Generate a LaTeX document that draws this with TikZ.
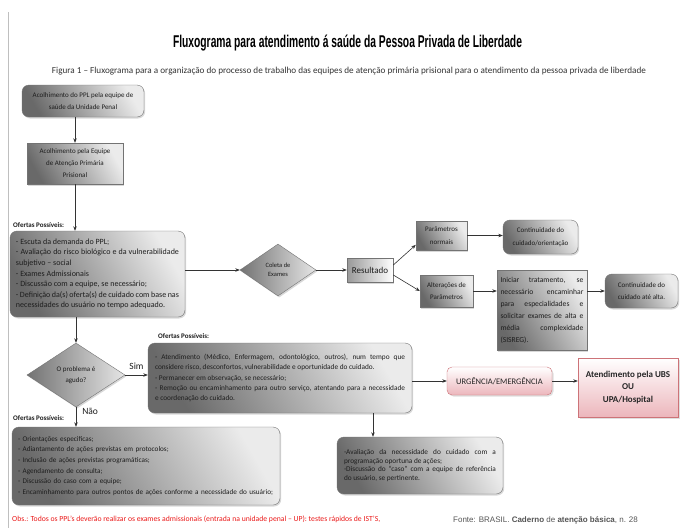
\documentclass[tikz,border=0pt]{standalone}
\usepackage{fontspec}
\setmainfont{Carlito}
\newfontfamily\arialfont{Liberation Sans}
\usepackage{tikz}
\usetikzlibrary{arrows.meta,positioning,shapes.geometric,shadows}
\usepackage{graphicx}
\usepackage{xcolor}
\definecolor{boxdark}  {RGB}{105,105,105}
\definecolor{boxlight} {RGB}{235,235,235}
\definecolor{boxtext}  {RGB}{ 30, 30, 30}
\definecolor{urgfill}  {RGB}{236,182,188}
\definecolor{urgline}  {RGB}{205,115,120}
\definecolor{obsred}   {RGB}{235, 25, 25}
\definecolor{fontegray}{RGB}{ 85, 85, 85}
\newcommand{\boxfont}{\fontsize{8}{10.6}\selectfont}
\newcommand{\smallboxfont}{\fontsize{7}{12.5}\selectfont}

\begin{document}
\begin{tikzpicture}[
    x=1pt, y=-1pt,
    module/.style={draw=black!55, rectangle, align=center, text=boxtext, font=\smallboxfont, inner sep=3pt, left color=boxdark, right color=boxlight, shading angle=120, drop shadow={opacity=0.3, shadow xshift=1.2pt, shadow yshift=-1.5pt}},
    card/.style={module, rounded corners=7pt},
    choice/.style={module, diamond, inner sep=0pt, left color=black!55, right color=black!10},
    alert/.style={draw=urgline, rectangle, align=center, text=black!85, top color=white, bottom color=urgfill, drop shadow={opacity=0.25, shadow xshift=1.5pt, shadow yshift=-1.5pt}},
    tag/.style={font=\fontsize{7}{8}\selectfont\bfseries, text=boxtext, anchor=west, inner sep=0pt},
    answer/.style={font=\fontsize{9.5}{11}\selectfont, text=boxtext, inner sep=2pt},
    arrow/.style={-{Stealth[length=4.5pt,width=3.5pt]}, draw=black!80, line width=0.6pt}
]
    \path[use as bounding box, fill=white] (0,0) rectangle (680,528);
    \draw[black!25, line width=0.6pt] (8,12) -- (8,528);

    \node (title) at (347.5,43) {\resizebox{349pt}{12.5pt}{\arialfont\bfseries Fluxograma para atendimento á saúde da Pessoa Privada de Liberdade}};
    \node[text=black!80] (subtitle) at (349,71) {\resizebox{594pt}{!}{\fontsize{8}{10}\selectfont Figura 1 – Fluxograma para a organização do processo de trabalho das equipes de atenção primária prisional para o atendimento da pessoa privada de liberdade}};

    \node[card, minimum width=122pt, minimum height=32pt, font=\fontsize{7}{12}\selectfont] (acolhe) at (83,101) {Acolhimento do PPL pela equipe de\\saúde da Unidade Penal};
    \node[module, minimum width=96pt, minimum height=41pt, font=\fontsize{7}{12}\selectfont] (acolheaps) at (75,163.5) {Acolhimento pela Equipe\\de Atenção Primária\\Prisional};

    \node[tag] (tagA) at (13,225) {Ofertas Possíveis:};
    \node[card, text width=163pt, minimum height=86pt, align=justify, inner xsep=6pt, font=\boxfont] (ofertasA) at (97.5,274) {- Escuta da demanda do PPL;\\
      - Avaliação do risco biológico e da vulnerabilidade\linebreak subjetivo – social\\
      - Exames Admissionais\\
      - Discussão com a equipe, se necessário;\\
      - Definição da(s) oferta(s) de cuidado com base nas\linebreak necessidades do usuário no tempo adequado.};

    \node[choice, minimum width=76pt, minimum height=52pt, font=\fontsize{6.5}{9.5}\selectfont] (coleta) at (278,270) {Coleta de\\Exames};
    \node[module, minimum width=46pt, minimum height=24pt, font=\fontsize{9}{11}\selectfont, left color=black!40, right color=white] (resultado) at (370,270) {Resultado};

    \node[module, minimum width=51pt, minimum height=29pt] (normais) at (441.5,235.5) {Parâmetros\\normais};
    \node[card, minimum width=75pt, minimum height=34pt] (contorient) at (540.5,237) {Continuidade do\\cuidado/orientação};
    \node[module, minimum width=53pt, minimum height=32pt] (alteracoes) at (446.5,291) {Alterações de\\Parâmetros};
    \node[module, text width=83pt, minimum height=80pt, align=justify, inner xsep=3.5pt, font=\fontsize{7.6}{12}\selectfont] (iniciar) at (542,310) {Iniciar tratamento, se\linebreak necessário encaminhar\linebreak para especialidades e\linebreak solicitar exames de alta e\linebreak média complexidade\linebreak (SISREG).};
    \node[card, minimum width=73pt, minimum height=34pt] (contalta) at (641.5,291) {Continuidade do\\cuidado até alta.};

    \node[choice, minimum width=98pt, minimum height=64pt, font=\fontsize{7}{11.5}\selectfont] (agudo) at (76,375) {O problema é\\agudo?};

    \node[tag] (tagB) at (158,336) {Ofertas Possíveis:};
    \node[card, text width=250pt, minimum height=70pt, align=justify, inner xsep=7pt, font=\fontsize{7.3}{10.2}\selectfont] (ofertasB) at (280,378) {- Atendimento (Médico, Enfermagem, odontológico, outros), num tempo que\linebreak considere risco, desconfortos, vulnerabilidade e oportunidade do cuidado.\\
      - Permanecer em observação, se necessário;\\
      - Remoção ou encaminhamento para outro serviço, atentando para a necessidade\linebreak e coordenação do cuidado.};

    \node[alert, rounded corners=5pt, minimum width=105pt, minimum height=28pt, font=\fontsize{8.5}{10}\selectfont] (urgencia) at (499.5,381) {URGÊNCIA/EMERGÊNCIA};
    \node[alert, minimum width=100pt, minimum height=59pt, font=\fontsize{9}{12.5}\selectfont\bfseries] (atend) at (628,387.5) {Atendimento pela UBS\\OU\\UPA/Hospital};

    \node[card, text width=152pt, minimum height=57pt, align=justify, inner xsep=7pt, font=\fontsize{7.3}{8.6}\selectfont] (avalia) at (420,465.5) {-Avaliação da necessidade do cuidado com a\linebreak programação oportuna de ações;\\
      -Discussão do “caso” com a equipe de referência\linebreak do usuário, se pertinente.};

    \node[tag] (tagC) at (13,418) {Ofertas Possíveis:};
    \node[card, text width=256pt, minimum height=78pt, align=left, inner xsep=6pt, font=\fontsize{7.2}{10.7}\selectfont] (ofertasC) at (146,466) {- Orientações especificas;\\
      - Adiantamento de ações previstas em protocolos;\\
      - Inclusão de ações previstas programáticas;\\
      - Agendamento de consulta;\\
      - Discussão do caso com a equipe;\\
      - Encaminhamento para outros pontos de ações conforme a necessidade do usuário;};

    \node[anchor=west, inner sep=0pt, text=obsred, font=\fontsize{7.7}{9}\selectfont] (obs) at (12,519) {Obs.: Todos os PPL’s deverão realizar os exames admissionais (entrada na unidade penal – UP): testes rápidos de IST’S,};
    \node[anchor=west, inner sep=0pt, text=fontegray, font=\arialfont\fontsize{8}{10}\selectfont] (fonte) at (453,520) {Fonte: BRASIL. \textbf{Caderno} de \textbf{atenção básica}, n. 28};

    \draw[arrow] (acolhe.south -| acolheaps.north) -- (acolheaps.north);
    \draw[arrow] (acolheaps.south) -- (acolheaps.south |- ofertasA.north);
    \draw[arrow] (ofertasA.east |- coleta.west) -- (coleta.west);
    \draw[arrow] (coleta.east) -- (resultado.west);
    \draw[arrow] (resultado.12) -- (normais.200);
    \draw[arrow] (resultado.-12) -- (alteracoes.west);
    \draw[arrow] (normais.east) -- (normais.east -| contorient.west);
    \draw[arrow] (alteracoes.east) -- (alteracoes.east -| iniciar.west);
    \draw[arrow] (iniciar.east |- contalta.west) -- (contalta.west);
    \draw[arrow] (ofertasA.south -| agudo.north) -- (agudo.north);
    \draw[arrow] (agudo.east) -- node[answer, above=3pt] {Sim} (agudo.east -| ofertasB.west);
    \draw[arrow] (agudo.south) -- node[answer, pos=0.2, right=4pt] {Não} (agudo.south |- ofertasC.north);
    \draw[arrow] (ofertasB.east |- urgencia.west) -- (urgencia.west);
    \draw[arrow] (urgencia.east) -- (urgencia.east -| atend.west);
    \draw[arrow] ([xshift=93pt]ofertasB.south) -- ([xshift=93pt]ofertasB.south |- avalia.north);
\end{tikzpicture}
\end{document}
